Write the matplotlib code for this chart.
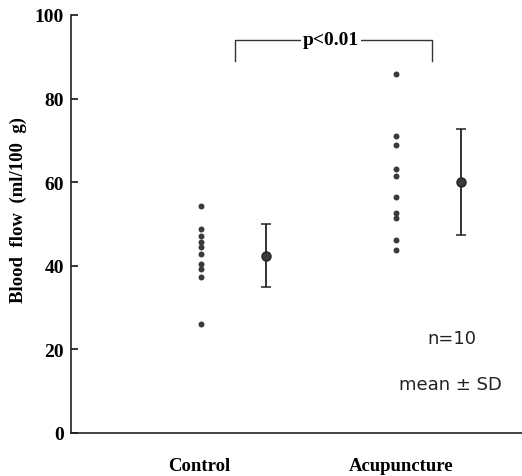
import matplotlib
matplotlib.use("Agg")
import matplotlib.pyplot as plt
import numpy as np

groups = ["Control", "Acupuncture"]
control = [54.4, 48.9, 47.2, 45.8, 44.4, 42.8, 40.4, 39.2, 37.3, 26.0]
acupuncture = [86.0, 71.0, 69.0, 63.2, 61.4, 56.5, 52.6, 51.4, 46.2, 43.8]
means = [42.4, 60.1]
sds = [7.5, 12.7]
yticks = [0, 20, 40, 60, 80, 100]

serif = "Liberation Serif"
col = "#3a3a3a"

fig = plt.figure(figsize=(5.22, 4.77), dpi=100)
ax = fig.add_axes([71/522, 1 - 434/477, 451/522, 418/477])

dot_x = [1.0, 2.5]
mean_x = [1.5, 3.0]
for xd, vals in zip(dot_x, [control, acupuncture]):
    ax.plot([xd]*len(vals), vals, "o", color=col, markersize=4.3, markeredgewidth=0)
for xm, m, s in zip(mean_x, means, sds):
    ax.errorbar([xm], [m], yerr=[s], fmt="o", color="#222222", markersize=6.5,
                capsize=3.5, elinewidth=1.3, capthick=1.1, markerfacecolor=col)

ax.set_xlim(0, 3.47)
ax.set_ylim(0, 100)
ax.set_yticks(yticks)
ax.set_yticklabels([str(t) for t in yticks], fontfamily=serif, fontweight="bold", fontsize=14)
ax.tick_params(axis="y", direction="in", length=5, width=1.1, pad=5)
ax.set_xticks([])
for s in ["top", "right"]:
    ax.spines[s].set_visible(False)
for s in ["left", "bottom"]:
    ax.spines[s].set_linewidth(1.2)
    ax.spines[s].set_color("#222222")

ax.set_ylabel("Blood  flow  (ml/100  g)", fontfamily=serif, fontweight="bold", fontsize=13.5)
ax.yaxis.set_label_coords(-0.098, 0.535)

for xl, g in zip([0.99, 2.54], groups):
    ax.text(xl, -7.7, g, ha="center", va="center", fontfamily=serif,
            fontweight="bold", fontsize=13.5, clip_on=False)

# significance bracket
bx0, bx1, by0, by1 = 1.26, 2.78, 89.1, 94.1
ax.plot([bx0, bx0, bx1, bx1], [by0, by1, by1, by0], color="#333333", lw=1.0)
ax.text(2.0, by1, "p<0.01", ha="center", va="center", fontfamily=serif,
        fontweight="bold", fontsize=14, bbox=dict(facecolor="white", edgecolor="none", pad=1.5))

ax.text(2.93, 22.7, "n=10", ha="center", va="center", fontsize=13, color="#222222")
ax.text(2.92, 11.8, "mean \u00b1 SD", ha="center", va="center", fontsize=13, color="#222222")

fig.savefig("out.png", dpi=100)
